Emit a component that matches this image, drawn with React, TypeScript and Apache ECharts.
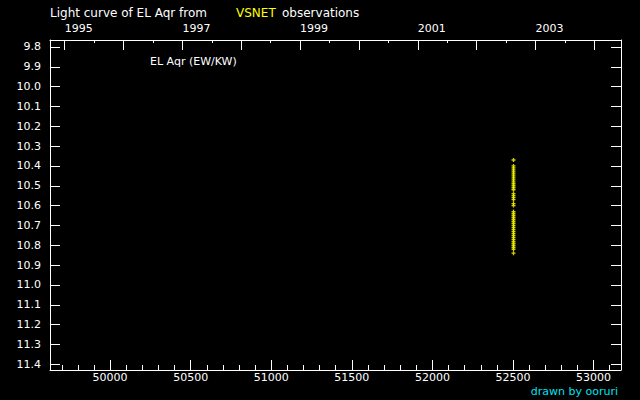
import React, { useEffect, useRef } from "react";
import * as echarts from "echarts";

// ---- data ----
const MJD_MIN = 49627;
const MJD_MAX = 53170;
const MJD_LABELS = [50000, 50500, 51000, 51500, 52000, 52500, 53000];
const MJD_MINOR: number[] = [];
for (let v = 49700; v <= 53100; v += 100) if (v % 500 !== 0) MJD_MINOR.push(v);

const MJD_1995 = 49718; // MJD of 1995-01-01
const YEAR_TICKS = [1995, 1996, 1997, 1998, 1999, 2000, 2001, 2002, 2003, 2004];
const YEAR_HALF = [1995.5, 1996.5, 1997.5, 1998.5, 1999.5, 2000.5, 2001.5, 2002.5, 2003.5];
const YEAR_LABELS = [1995, 1997, 1999, 2001, 2003];

const MAG_MIN = 9.765;
const MAG_MAX = 11.429;
const MAG_TICKS = [9.8, 9.9, 10.0, 10.1, 10.2, 10.3, 10.4, 10.5, 10.6, 10.7, 10.8, 10.9, 11.0, 11.1, 11.2, 11.3, 11.4];

const OBS_MJD = 52503;
const OBS_MAG = [
  10.37, 10.40, 10.41, 10.42, 10.43, 10.44, 10.45, 10.46, 10.47, 10.48, 10.49, 10.50, 10.51, 10.52,
  10.54, 10.55, 10.56, 10.57, 10.59, 10.60,
  10.63, 10.64, 10.65, 10.66, 10.67, 10.68, 10.69, 10.70, 10.71, 10.72, 10.73, 10.74, 10.75, 10.76,
  10.77, 10.78, 10.79, 10.80, 10.81, 10.82, 10.84,
];

const toYear = (mjd: number) => 1995 + (mjd - MJD_1995) / 365.25;

const FONT = "DejaVu Sans";
const WHITE = "#ffffff";

export default function App() {
  const ref = useRef<HTMLDivElement>(null);
  useEffect(() => {
    if (!ref.current) return;
    const chart = echarts.init(ref.current, null, { renderer: "svg" });
    const line = { show: true, lineStyle: { color: WHITE, width: 1 } };
    const noSplit = { show: false };
    chart.setOption({
      animation: false,
      backgroundColor: "#000000",
      grid: { left: 50, top: 40, right: 19, bottom: 30, containLabel: false },
      graphic: [
        { type: "text", x: 50, y: 12.5, style: { text: "Light curve of EL Aqr from", fill: WHITE, font: `12px '${FONT}'`, verticalAlign: "middle" } },
        { type: "text", x: 236, y: 12.5, style: { text: "VSNET", fill: "#ffff00", font: `12px '${FONT}'`, verticalAlign: "middle" } },
        { type: "text", x: 282, y: 12.5, style: { text: "observations", fill: WHITE, font: `12px '${FONT}'`, verticalAlign: "middle" } },
        { type: "text", x: 150, y: 61, style: { text: "EL Aqr (EW/KW)", fill: WHITE, font: `11px '${FONT}'`, verticalAlign: "middle" } },
        { type: "text", x: 618, y: 391, style: { text: "drawn by ooruri", fill: "#00e0f0", font: `11px '${FONT}'`, align: "right", verticalAlign: "middle" } },
      ],
      xAxis: [
        {
          type: "value", position: "bottom", min: MJD_MIN, max: MJD_MAX,
          axisLine: line, splitLine: noSplit,
          axisTick: { show: true, inside: true, length: 10, lineStyle: { color: WHITE }, customValues: MJD_LABELS },
          axisLabel: { show: true, color: WHITE, fontFamily: FONT, fontSize: 11, margin: 2, customValues: MJD_LABELS, formatter: (v: number) => String(Math.round(v)) },
        },
        {
          type: "value", position: "bottom", min: MJD_MIN, max: MJD_MAX,
          axisLine: { show: false }, splitLine: noSplit,
          axisTick: { show: true, inside: true, length: 5, lineStyle: { color: WHITE }, customValues: MJD_MINOR },
          axisLabel: { show: false },
        },
        {
          type: "value", position: "top", min: toYear(MJD_MIN), max: toYear(MJD_MAX),
          axisLine: line, splitLine: noSplit,
          axisTick: { show: true, inside: true, length: 10, lineStyle: { color: WHITE }, customValues: YEAR_TICKS },
          axisLabel: { show: true, color: WHITE, fontFamily: FONT, fontSize: 11, margin: 6, align: "left", customValues: YEAR_LABELS, formatter: (v: number) => String(Math.round(v)) },
        },
        {
          type: "value", position: "top", min: toYear(MJD_MIN), max: toYear(MJD_MAX),
          axisLine: { show: false }, splitLine: noSplit,
          axisTick: { show: true, inside: true, length: 3, lineStyle: { color: WHITE }, customValues: YEAR_HALF },
          axisLabel: { show: false },
        },
      ],
      yAxis: [
        {
          type: "value", position: "left", inverse: true, min: MAG_MIN, max: MAG_MAX,
          axisLine: line, splitLine: noSplit,
          axisTick: { show: true, inside: true, length: 10, lineStyle: { color: WHITE }, customValues: MAG_TICKS },
          axisLabel: { show: true, color: WHITE, fontFamily: FONT, fontSize: 11, margin: 9, customValues: MAG_TICKS, formatter: (v: number) => v.toFixed(1) },
        },
        {
          type: "value", position: "right", inverse: true, min: MAG_MIN, max: MAG_MAX,
          axisLine: line, splitLine: noSplit,
          axisTick: { show: true, inside: true, length: 10, lineStyle: { color: WHITE }, customValues: MAG_TICKS },
          axisLabel: { show: false },
        },
      ],
      series: [
        {
          type: "scatter",
          xAxisIndex: 0,
          yAxisIndex: 0,
          symbol: "path://M0,1H3V2H0Z M1,0H2V3H1Z",
          symbolSize: 4,
          itemStyle: { color: "#ffff00" },
          data: OBS_MAG.map((m) => [OBS_MJD, m]),
        },
      ],
    });
    return () => chart.dispose();
  }, []);
  return <div ref={ref} style={{ position: "fixed", left: 0, top: 0, width: 640, height: 400 }} />;
}
